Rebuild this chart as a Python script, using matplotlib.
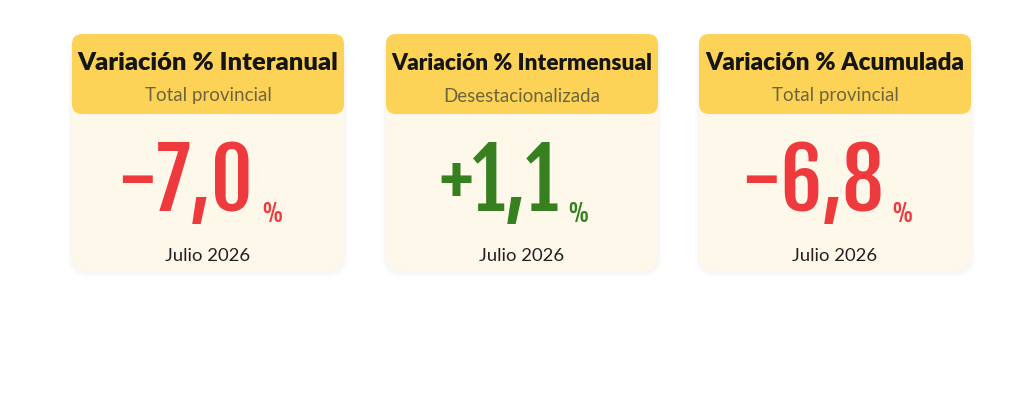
import matplotlib
matplotlib.use("Agg")
import matplotlib.pyplot as plt
from matplotlib import font_manager
from matplotlib.patches import FancyBboxPatch

# Card contents
titles = ["Variación % Interanual", "Variación % Intermensual", "Variación % Acumulada"]
subtitles = ["Total provincial", "Desestacionalizada", "Total provincial"]
values = [-7.0, 1.1, -6.8]
dates = ["Julio 2026", "Julio 2026", "Julio 2026"]

# Styling
header_col = "#FDD357"
body_col = "#FDF8E9"
up_col = "#37801F"
down_col = "#EF3A3D"

def pick_font(names):
    for n in names:
        try:
            font_manager.findfont(n, fallback_to_default=False)
            return n
        except Exception:
            pass
    return "DejaVu Sans"

num_font = pick_font(["Fjalla One", "Saira ExtraCondensed", "DejaVu Sans"])
txt_font = pick_font(["Lato", "Open Sans", "DejaVu Sans"])

fig = plt.figure(figsize=(10.24, 4.06), dpi=100)
ax = fig.add_axes([0, 0, 1, 1])
ax.set_xlim(0, 1024)
ax.set_ylim(406, 0)
ax.axis("off")

card_left = [72, 386, 699]
card_w = 272
top, head_bot, bottom = 35, 115, 272
title_w = 260  # titles are fitted to this width

fig.canvas.draw()
renderer = fig.canvas.get_renderer()

for i in range(3):
    x0 = card_left[i]
    cx = x0 + card_w / 2
    # faint shadow
    for k, a in [(4, 0.025), (2, 0.04)]:
        ax.add_patch(FancyBboxPatch((x0 - k, top - k + 2), card_w + 2 * k, bottom - top + 2 * k,
                                    boxstyle="round,pad=0,rounding_size=20",
                                    fc="#9a9070", ec="none", alpha=a, zorder=1))
    ax.add_patch(FancyBboxPatch((x0, top), card_w, bottom - top,
                                boxstyle="round,pad=0,rounding_size=18",
                                fc=body_col, ec="none", zorder=2))
    ax.add_patch(FancyBboxPatch((x0, top), card_w, head_bot - top,
                                boxstyle="round,pad=0,rounding_size=10",
                                fc=header_col, ec="none", zorder=3))

    t_title = ax.text(cx, 63, titles[i], ha="center", va="center", fontsize=18,
                      fontweight=800, family=txt_font, color="#151515", zorder=4)
    tw = t_title.get_window_extent(renderer).width
    t_title.set_fontsize(18 * title_w / tw)
    ax.text(cx, 96, subtitles[i], ha="center", va="center", fontsize=13.5,
            family=txt_font, color="#6E653F", zorder=4)

    v = values[i]
    col = up_col if v > 0 else down_col
    label = f"{v:+.1f}".replace(".", ",")
    t_num = ax.text(0, 211, label, ha="left", va="baseline", fontsize=59,
                    family=num_font, color=col, zorder=4)
    t_pct = ax.text(0, 222, "%", ha="left", va="baseline", fontsize=17,
                    family=num_font, color=col, zorder=4)
    w_num = t_num.get_window_extent(renderer).width
    w_pct = t_pct.get_window_extent(renderer).width
    gap = 8
    start = cx - (w_num + gap + w_pct) / 2 - 8
    t_num.set_x(start)
    t_pct.set_x(start + w_num + gap)

    ax.text(cx, 256, dates[i], ha="center", va="center", fontsize=13.3,
            family=txt_font, color="#222222", zorder=4)

fig.savefig("out.png", dpi=100, facecolor="white")
